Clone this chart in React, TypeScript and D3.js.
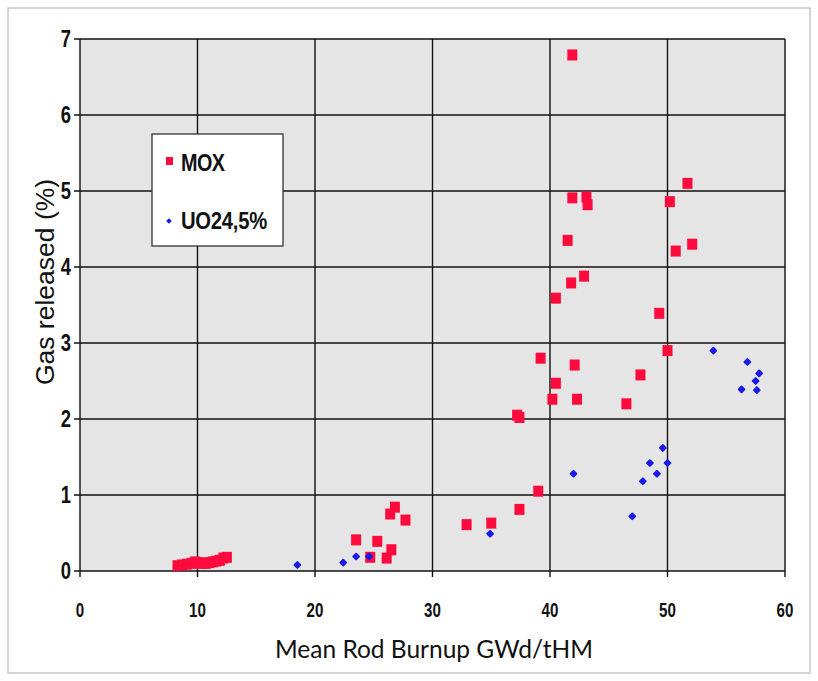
import React from 'react';
import * as d3 from 'd3';

// MOX rods: [burnup GWd/tHM, gas released %]
const moxBurnup = [8.3, 8.7, 9.1, 9.5, 9.8, 10.1, 10.4, 10.7, 11.0, 11.3, 11.6, 11.9, 12.2, 12.5,
  23.5, 24.7, 25.3, 26.1, 26.5, 26.4, 26.8, 27.7, 32.9, 35.0, 37.4, 39.0,
  37.2, 37.4, 40.2, 42.3, 40.5, 42.1, 39.2, 46.5, 47.7, 50.0, 49.3,
  40.5, 41.8, 42.9, 41.5, 41.9, 43.1, 43.2, 50.2, 51.7, 50.7, 52.1, 41.9];
const moxGas = [0.07, 0.08, 0.09, 0.1, 0.12, 0.11, 0.1, 0.1, 0.11, 0.12, 0.13, 0.14, 0.17, 0.18,
  0.41, 0.18, 0.39, 0.17, 0.28, 0.75, 0.84, 0.67, 0.61, 0.63, 0.81, 1.05,
  2.05, 2.02, 2.26, 2.26, 2.47, 2.71, 2.80, 2.20, 2.58, 2.90, 3.39,
  3.59, 3.79, 3.88, 4.35, 4.91, 4.92, 4.82, 4.86, 5.10, 4.21, 4.30, 6.79];

// UO2 4.5% rods
const uoBurnup = [18.5, 22.4, 23.5, 24.6, 34.9, 42.0, 47.0, 47.9, 49.1, 48.5, 50.0, 49.6,
  53.9, 56.8, 57.8, 57.5, 56.3, 57.6];
const uoGas = [0.08, 0.11, 0.19, 0.19, 0.49, 1.28, 0.72, 1.18, 1.28, 1.42, 1.42, 1.62,
  2.90, 2.75, 2.60, 2.50, 2.39, 2.38];

const xTicks = [0, 10, 20, 30, 40, 50, 60];
const yTicks = [0, 1, 2, 3, 4, 5, 6, 7];
const seriesNames = ['MOX', 'UO24,5%'];

const W = 818;
const H = 681;
const left = 80, right = 785, top = 39, bottom = 571;

const App = () => {
  const x = d3.scaleLinear().domain([0, 60]).range([left, right]);
  const y = d3.scaleLinear().domain([0, 7]).range([bottom, top]);
  const tickFont = '"Liberation Sans", Arial, sans-serif';

  const mox = moxBurnup.map((b, i) => [b, moxGas[i]]);
  const uo = uoBurnup.map((b, i) => [b, uoGas[i]]);

  return (
    <svg width={W} height={H} style={{ display: 'block', position: 'absolute', left: 0, top: 0 }}>
      <rect x={0} y={0} width={W} height={H} fill="#fff" />
      <rect x={8} y={8} width={802} height={665} fill="#fff" stroke="#c8c8c8" strokeWidth={1.5} />
      <rect x={left} y={top} width={right - left} height={bottom - top} fill="#e5e5e5" />

      {/* grid */}
      {xTicks.map(t => (
        <g key={'x' + t}>
          <line x1={x(t)} x2={x(t)} y1={top} y2={bottom + 6} stroke="#111" strokeWidth={1.4} />
          <text transform={`translate(${x(t)},617) scale(0.72,1)`} textAnchor="middle" fontFamily={tickFont}
            fontWeight="bold" fontSize={21} fill="#111">{t}</text>
        </g>
      ))}
      {yTicks.map(t => (
        <g key={'y' + t}>
          <line x1={left - 6} x2={right} y1={y(t)} y2={y(t)} stroke="#111" strokeWidth={1.4} />
          <text transform={`translate(71,${y(t) + 8}) scale(0.8,1)`} textAnchor="end" fontFamily={tickFont}
            fontWeight="bold" fontSize={23} fill="#111">{t}</text>
        </g>
      ))}

      {/* points */}
      {mox.map((d, i) => (
        <rect key={'m' + i} x={x(d[0]) - 5} y={y(d[1]) - 5.5} width={10} height={11} fill="#ff0a3c" />
      ))}
      {uo.map((d, i) => (
        <rect key={'u' + i} x={-3} y={-3} width={6} height={6} rx={1}
          transform={`translate(${x(d[0])},${y(d[1])}) rotate(45)`} fill="#1a1ae6" />
      ))}

      {/* legend */}
      <rect x={152} y={134} width={131} height={112} fill="#fff" stroke="#333" strokeWidth={1.3} />
      <rect x={166} y={157} width={7} height={8} fill="#ff0a3c" />
      <text transform="translate(181,171) scale(0.86,1)" fontFamily={tickFont} fontWeight="bold"
        fontSize={23} letterSpacing={-0.6} fill="#111">{seriesNames[0]}</text>
      <rect x={-2} y={-2} width={4} height={4} transform="translate(169,221) rotate(45)" fill="#1a1ae6" />
      <text transform="translate(181,229) scale(0.88,1)" fontFamily={tickFont} fontWeight="bold"
        fontSize={23} letterSpacing={-0.3} fill="#111">{seriesNames[1]}</text>

      {/* axis titles */}
      <text x={434} y={658} textAnchor="middle" fontFamily="Lato, 'Open Sans', sans-serif"
        fontSize={24.5} fill="#111">Mean Rod Burnup GWd/tHM</text>
      <text transform="translate(54,282) rotate(-90)" textAnchor="middle"
        fontFamily={tickFont} fontSize={26.5} fill="#111">Gas released (%)</text>
    </svg>
  );
};

export default App;
